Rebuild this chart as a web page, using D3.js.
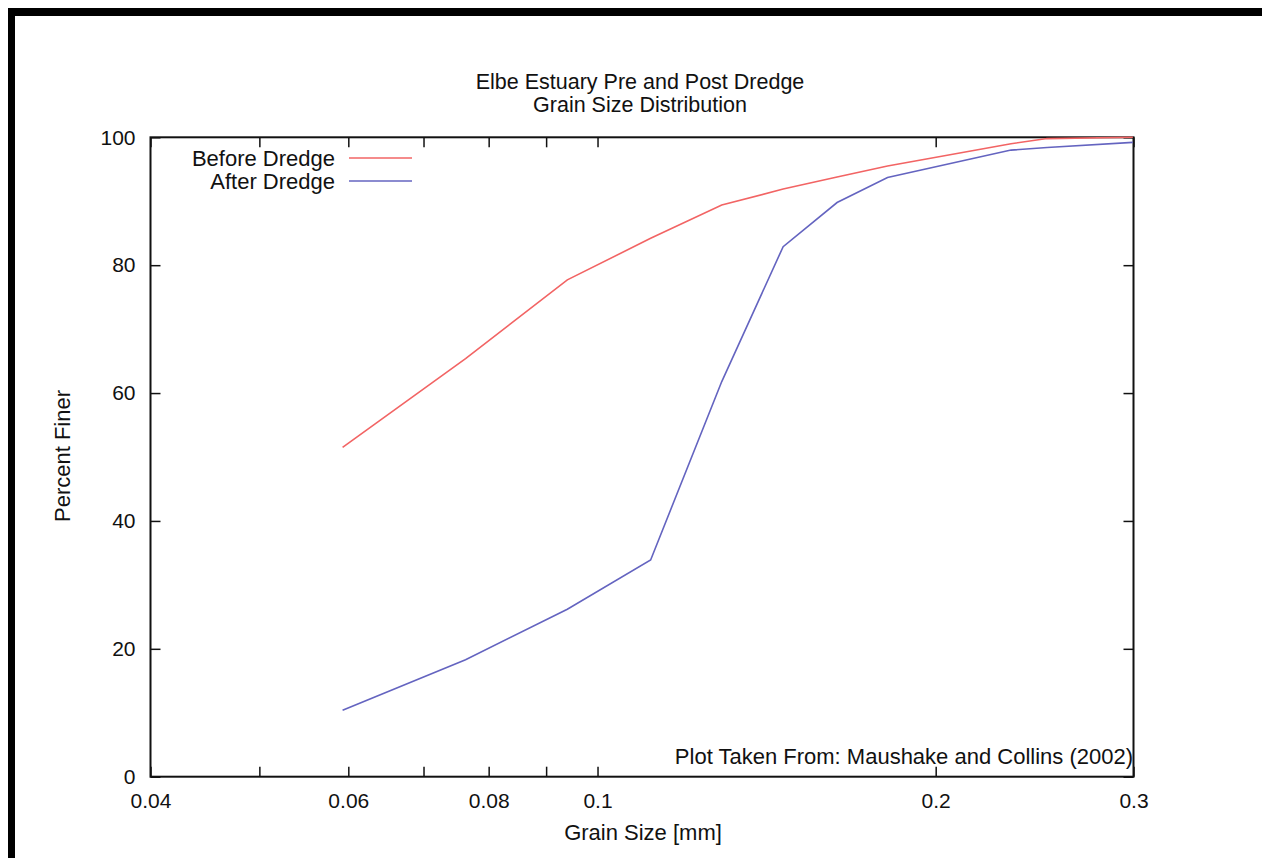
<!DOCTYPE html>
<html>
<head>
<meta charset="utf-8">
<script src="https://cdn.jsdelivr.net/npm/d3@7"></script>
<style>
  body { margin: 0; background: #fff; }
  svg text { font-family: "Liberation Sans", Arial, sans-serif; fill: #111; }
</style>
</head>
<body>
<script>
var w = 1262;
var h = 858;

// grain sizes (mm)
var grainSize = [0.0593, 0.0763, 0.094, 0.1115, 0.129, 0.1463, 0.1634, 0.1812, 0.2334, 0.2513, 0.2996];
var beforeDredge = [51.5, 65.4, 77.7, 84.2, 89.4, 91.9, 93.8, 95.5, 99.0, 99.8, 100];
var afterDredge = [10.4, 18.3, 26.2, 33.9, 61.8, 82.9, 89.8, 93.7, 98.0, 98.4, 99.2];

var xLabelTicks = [0.04, 0.06, 0.08, 0.1, 0.2, 0.3];
var xMinorTicks = [0.05, 0.07, 0.09];
var yTicks = [0, 20, 40, 60, 80, 100];

var plotLeft = 150.5, plotRight = 1133.5, plotTop = 137.3, plotBottom = 776.7;

var xScale = d3.scaleLog()
				.domain([0.04, 0.3])
				.range([plotLeft, plotRight]);

var yScale = d3.scaleLinear()
				.domain([0, 100])
				.range([plotBottom, plotTop]);

var svg = d3.select("body")
			.append("svg")
			.attr("width", w)
			.attr("height", h);

// black frame around the picture (top and left edges)
svg.append("rect")
	.attr("x", 8).attr("y", 8)
	.attr("width", w).attr("height", 8)
	.attr("fill", "#000");
svg.append("rect")
	.attr("x", 8).attr("y", 8)
	.attr("width", 7).attr("height", h)
	.attr("fill", "#000");

// title
svg.append("text")
	.attr("x", 640).attr("y", 89)
	.attr("text-anchor", "middle")
	.attr("font-size", 21.5)
	.text("Elbe Estuary Pre and Post Dredge");
svg.append("text")
	.attr("x", 640).attr("y", 112)
	.attr("text-anchor", "middle")
	.attr("font-size", 21.5)
	.text("Grain Size Distribution");

// axes: labels outside, ticks drawn inward and mirrored
var allX = xLabelTicks.concat(xMinorTicks);

svg.append("g")
	.attr("transform", "translate(0," + plotBottom + ")")
	.call(d3.axisBottom(xScale).tickValues(allX).tickSize(-10).tickPadding(16)
		.tickFormat(function(d) { return xLabelTicks.indexOf(d) >= 0 ? d3.format("")(d) : ""; }))
	.call(function(g) { g.select(".domain").remove(); })
	.selectAll("text").attr("font-size", 21).attr("font-family", "Liberation Sans, Arial, sans-serif").attr("fill", "#111");

svg.append("g")
	.attr("transform", "translate(0," + plotTop + ")")
	.call(d3.axisTop(xScale).tickValues(allX).tickSize(-10).tickFormat(""))
	.call(function(g) { g.select(".domain").remove(); });

svg.append("g")
	.attr("transform", "translate(" + plotLeft + ",0)")
	.call(d3.axisLeft(yScale).tickValues(yTicks).tickSize(-10).tickPadding(15))
	.call(function(g) { g.select(".domain").remove(); })
	.selectAll("text").attr("font-size", 21).attr("font-family", "Liberation Sans, Arial, sans-serif").attr("fill", "#111");

svg.append("g")
	.attr("transform", "translate(" + plotRight + ",0)")
	.call(d3.axisRight(yScale).tickValues(yTicks).tickSize(-10).tickFormat(""))
	.call(function(g) { g.select(".domain").remove(); });

svg.selectAll(".tick line").attr("stroke", "#111").attr("stroke-width", 1.5);

// plot border
svg.append("rect")
	.attr("x", plotLeft).attr("y", plotTop)
	.attr("width", plotRight - plotLeft).attr("height", plotBottom - plotTop)
	.attr("fill", "none")
	.attr("stroke", "#111")
	.attr("stroke-width", 2);

// curves
var line = d3.line()
	.x(function(d) { return xScale(d[0]); })
	.y(function(d) { return yScale(d[1]); });

svg.append("path")
	.datum(d3.zip(grainSize, beforeDredge))
	.attr("d", line)
	.attr("fill", "none")
	.attr("stroke", "#f26464")
	.attr("stroke-width", 1.6);

svg.append("path")
	.datum(d3.zip(grainSize, afterDredge))
	.attr("d", line)
	.attr("fill", "none")
	.attr("stroke", "#6464c0")
	.attr("stroke-width", 1.6);

// legend
var legend = [["Before Dredge", "#f26464"], ["After Dredge", "#6464c0"]];
legend.forEach(function(d, i) {
	var y = 158 + i * 23;
	svg.append("text")
		.attr("x", 335).attr("y", y + 8)
		.attr("text-anchor", "end")
		.attr("font-size", 22)
		.text(d[0]);
	svg.append("line")
		.attr("x1", 349).attr("x2", 412)
		.attr("y1", y).attr("y2", y)
		.attr("stroke", d[1])
		.attr("stroke-width", 1.6);
});

// source note
svg.append("text")
	.attr("x", 1133).attr("y", 764)
	.attr("text-anchor", "end")
	.attr("font-size", 22)
	.text("Plot Taken From: Maushake and Collins (2002)");

// axis titles
svg.append("text")
	.attr("x", 643).attr("y", 840)
	.attr("text-anchor", "middle")
	.attr("font-size", 22)
	.text("Grain Size [mm]");

svg.append("text")
	.attr("transform", "translate(70,456) rotate(-90)")
	.attr("text-anchor", "middle")
	.attr("font-size", 22)
	.text("Percent Finer");
</script>
</body>
</html>
